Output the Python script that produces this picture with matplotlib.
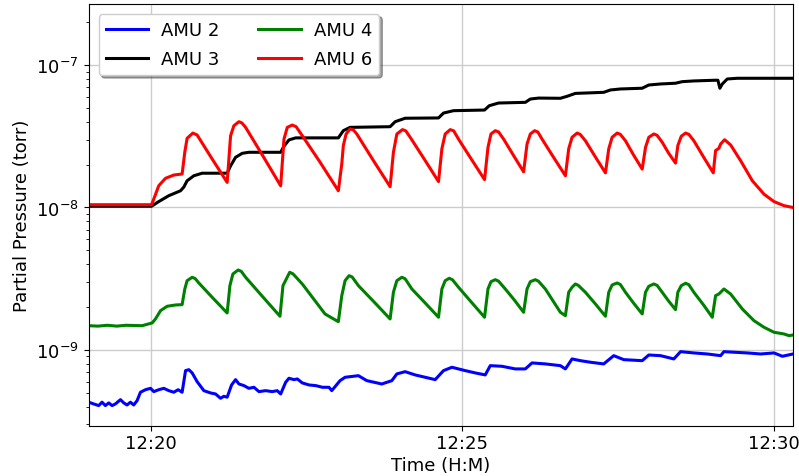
# Partial pressures from the RGA scan, AMU 2/3/4/6 against clock time

import numpy as np
import pandas as pd
import matplotlib
matplotlib.use('Agg')
import matplotlib.pyplot as plt
import matplotlib.dates as mdates

start = pd.Timestamp("2020-01-01 12:19:00")

# minutes after 12:19, pressures in 1e-9 torr
amu2_t = [0.0, 0.080, 0.161, 0.214, 0.268, 0.322, 0.375, 0.429, 0.510, 0.563, 0.616, 0.670, 0.723,
          0.777, 0.831, 0.912, 0.992, 1.045, 1.125, 1.206, 1.286, 1.367, 1.436, 1.500, 1.555, 1.608,
          1.661, 1.741, 1.849, 1.957, 2.037, 2.117, 2.170, 2.223, 2.294, 2.358, 2.412, 2.492, 2.572,
          2.653, 2.733, 2.841, 2.947, 3.027, 3.082, 3.162, 3.215, 3.296, 3.349, 3.429, 3.537, 3.645,
          3.752, 3.858, 3.902, 4.035, 4.116, 4.330, 4.465, 4.706, 4.867, 4.947, 5.080, 5.241, 5.402,
          5.563, 5.696, 5.831, 6.045, 6.206, 6.366, 6.447, 6.635, 6.849, 7.010, 7.117, 7.331, 7.572,
          7.653, 7.760, 7.894, 8.055, 8.268, 8.429, 8.590, 8.886, 8.992, 9.180, 9.394, 9.502, 9.715,
          9.931, 10.145, 10.198, 10.358, 10.574, 10.788, 11.002, 11.136, 11.307]
amu2_p = [0.430, 0.418, 0.407, 0.430, 0.407, 0.425, 0.407, 0.418, 0.448, 0.425, 0.411, 0.430, 0.411,
          0.441, 0.505, 0.526, 0.538, 0.510, 0.526, 0.538, 0.518, 0.505, 0.526, 0.505, 0.716, 0.727,
          0.690, 0.599, 0.518, 0.499, 0.491, 0.458, 0.473, 0.466, 0.568, 0.619, 0.577, 0.562, 0.538,
          0.547, 0.510, 0.518, 0.510, 0.518, 0.491, 0.593, 0.633, 0.619, 0.626, 0.587, 0.568, 0.562,
          0.547, 0.547, 0.518, 0.609, 0.643, 0.660, 0.609, 0.577, 0.609, 0.679, 0.704, 0.668, 0.643,
          0.619, 0.716, 0.756, 0.716, 0.690, 0.668, 0.776, 0.768, 0.736, 0.736, 0.811, 0.798, 0.776,
          0.736, 0.865, 0.841, 0.820, 0.798, 0.912, 0.855, 0.841, 0.922, 0.912, 0.865, 0.973, 0.953,
          0.937, 0.912, 0.973, 0.964, 0.953, 0.937, 0.953, 0.903, 0.937]

amu3_t = [0.0, 1.008, 1.125, 1.286, 1.474, 1.527, 1.580, 1.688, 1.822, 2.223, 2.278, 2.358, 2.465,
          2.572, 3.082, 3.135, 3.215, 3.323, 4.008, 4.088, 4.196, 4.839, 4.920, 5.080, 5.616, 5.696,
          5.857, 6.355, 6.431, 6.580, 7.010, 7.090, 7.223, 7.572, 7.680, 7.813, 8.268, 8.376, 8.537,
          8.886, 8.992, 9.180, 9.421, 9.529, 9.715, 10.064, 10.101, 10.133, 10.172, 10.252, 10.413,
          11.307]
amu3_p = [10.2, 10.2, 11.0, 12.1, 13.1, 13.9, 15.4, 16.7, 17.4, 17.4, 19.6, 22.5, 24.0,
          24.4, 24.4, 26.9, 29.8, 30.8, 30.8, 34.6, 36.5, 36.9, 40.0, 42.3, 42.5, 46.0,
          47.8, 48.3, 51.8, 54.1, 54.7, 57.7, 58.6, 58.4, 60.3, 63.2, 64.3, 66.8, 67.9,
          68.7, 72.4, 73.6, 74.5, 76.4, 77.3, 78.2, 78.2, 68.7, 73.6, 79.8, 80.7,
          80.7]

amu4_t = [0.0, 0.15, 0.30, 0.45, 0.60, 0.857, 1.018, 1.072, 1.153, 1.259, 1.394, 1.500, 1.543, 1.580,
          1.661, 1.71, 1.768, 1.982, 2.223, 2.267, 2.315, 2.400, 2.45, 2.519, 2.797, 3.071, 3.119,
          3.227, 3.28, 3.429, 3.794, 4.008, 4.063, 4.116, 4.180, 4.23, 4.330, 4.582, 4.839, 4.892,
          4.947, 5.027, 5.08, 5.188, 5.402, 5.616, 5.670, 5.723, 5.788, 5.84, 5.937, 6.141, 6.355,
          6.410, 6.458, 6.527, 6.58, 6.688, 6.833, 6.982, 7.037, 7.090, 7.170, 7.22, 7.331, 7.572,
          7.653, 7.706, 7.760, 7.813, 7.86, 7.974, 8.135, 8.296, 8.349, 8.403, 8.484, 8.535, 8.617,
          8.746, 8.886, 8.939, 8.992, 9.072, 9.125, 9.207, 9.309, 9.421, 9.458, 9.513, 9.582, 9.635,
          9.715, 9.871, 10.011, 10.064, 10.117, 10.198, 10.305, 10.493, 10.680, 10.841, 11.002,
          11.162, 11.243, 11.307]
amu4_p = [1.48, 1.47, 1.49, 1.47, 1.49, 1.48, 1.547, 1.650, 1.887, 2.026, 2.069, 2.080, 2.679, 3.064,
          3.237, 3.17, 2.952, 2.343, 1.818, 2.827, 3.415, 3.642, 3.56, 3.237, 2.354, 1.724, 2.827,
          3.510, 3.42, 2.905, 1.789, 1.579, 2.404, 3.064, 3.322, 3.25, 2.827, 2.172, 1.650, 2.541,
          3.064, 3.237, 3.16, 2.679, 2.137, 1.696, 2.679, 3.064, 3.185, 3.11, 2.754, 2.172, 1.696,
          2.679, 3.015, 3.113, 3.04, 2.679, 2.243, 1.839, 2.679, 3.015, 3.113, 3.04, 2.679, 1.839,
          1.741, 2.541, 2.754, 2.905, 2.84, 2.541, 2.103, 1.724, 2.541, 2.858, 2.952, 2.88, 2.541,
          2.137, 1.789, 2.541, 2.799, 2.905, 2.84, 2.541, 2.207, 1.918, 2.541, 2.827, 2.938, 2.87,
          2.541, 2.069, 1.696, 2.404, 2.471, 2.679, 2.471, 1.940, 1.606, 1.443, 1.331,
          1.295, 1.260, 1.274]

amu6_t = [0.0, 1.008, 1.045, 1.125, 1.233, 1.367, 1.500, 1.543, 1.580, 1.672, 1.74, 1.982, 2.223,
          2.278, 2.331, 2.412, 2.46, 2.519, 2.797, 3.082, 3.135, 3.188, 3.268, 3.33, 3.429, 3.714,
          4.008, 4.063, 4.088, 4.132, 4.196, 4.25, 4.304, 4.566, 4.839, 4.892, 4.947, 5.037, 5.09,
          5.161, 5.386, 5.616, 5.670, 5.723, 5.804, 5.86, 5.937, 6.141, 6.355, 6.410, 6.458, 6.527,
          6.58, 6.661, 6.817, 6.982, 7.037, 7.090, 7.159, 7.21, 7.278, 7.460, 7.653, 7.706, 7.760,
          7.841, 7.89, 7.974, 8.135, 8.296, 8.349, 8.403, 8.484, 8.535, 8.617, 8.746, 8.886, 8.939,
          8.992, 9.072, 9.125, 9.207, 9.309, 9.421, 9.458, 9.513, 9.582, 9.635, 9.715, 9.871, 10.027,
          10.064, 10.117, 10.145, 10.209, 10.305, 10.466, 10.654, 10.841, 11.002, 11.162, 11.307]
amu6_p = [10.46, 10.46, 11.47, 14.22, 16.03, 16.9, 17.18, 24.5, 30.6, 33.3, 32.3, 21.9, 15.0,
          31.9, 37.5, 40.0, 39.2, 36.5, 23.0, 14.2, 30.2, 36.5, 37.9, 36.9, 31.9, 20.8,
          13.1, 20.2, 27.2, 32.8, 35.6, 35.0, 32.8, 21.5, 14.0, 24.4, 32.8, 35.2, 34.5,
          31.1, 21.9, 15.2, 25.8, 32.8, 35.2, 34.5, 30.2, 21.9, 15.7, 26.4, 32.8, 34.6,
          33.9, 30.2, 23.3, 17.8, 27.9, 32.8, 34.6, 33.9, 30.2, 22.6, 16.7, 25.8, 31.1,
          33.3, 32.6, 29.4, 22.6, 17.5, 25.8, 31.1, 33.3, 32.6, 29.4, 23.4, 18.6, 26.4,
          31.1, 32.8, 32.1, 28.7, 24.1, 20.5, 27.2, 31.6, 33.3, 32.6, 29.4, 22.6, 17.5,
          25.1, 26.0, 27.9, 29.9, 27.5, 21.3, 15.4, 12.4, 11.0, 10.3, 10.0]

labels = ["AMU 2", "AMU 3", "AMU 4", "AMU 6"]
colors = ["blue", "black", "green", "red"]
series = [(amu2_t, amu2_p), (amu3_t, amu3_p), (amu4_t, amu4_p), (amu6_t, amu6_p)]

fig = plt.figure(figsize=(7.99, 4.77), dpi=100)
ax = fig.add_axes([0.111, 0.105, 0.8815, 0.8845])

for (t, p), lab, c in zip(series, labels, colors):
    times = start + pd.to_timedelta(np.array(t), unit="min")
    ax.plot(times, np.array(p) * 1e-9, color=c, lw=2.2, label=lab)

ax.set_yscale("log")
ax.set_yticks([1e-9, 1e-8, 1e-7])
ax.set_ylim(2.93e-10, 2.68e-7)
ax.set_xlim(start, start + pd.Timedelta(minutes=11.307))
ax.xaxis.set_major_locator(mdates.MinuteLocator(byminute=[20, 25, 30]))
ax.xaxis.set_major_formatter(mdates.DateFormatter("%H:%M"))
ax.tick_params(labelsize=13)
ax.tick_params(axis="x", pad=2)
ax.grid(True, which="major", color="#cccccc", lw=1)

ax.set_xlabel("Time (H:M)", fontsize=13, labelpad=3)
ax.set_ylabel("Partial Pressure (torr)", fontsize=13)
ax.legend(loc="upper left", ncol=2, fontsize=13, shadow=True, handlelength=2.35,
          handletextpad=0.72, columnspacing=2.15, labelspacing=0.6, borderaxespad=0.55)

plt.savefig("out.png", dpi=100)
